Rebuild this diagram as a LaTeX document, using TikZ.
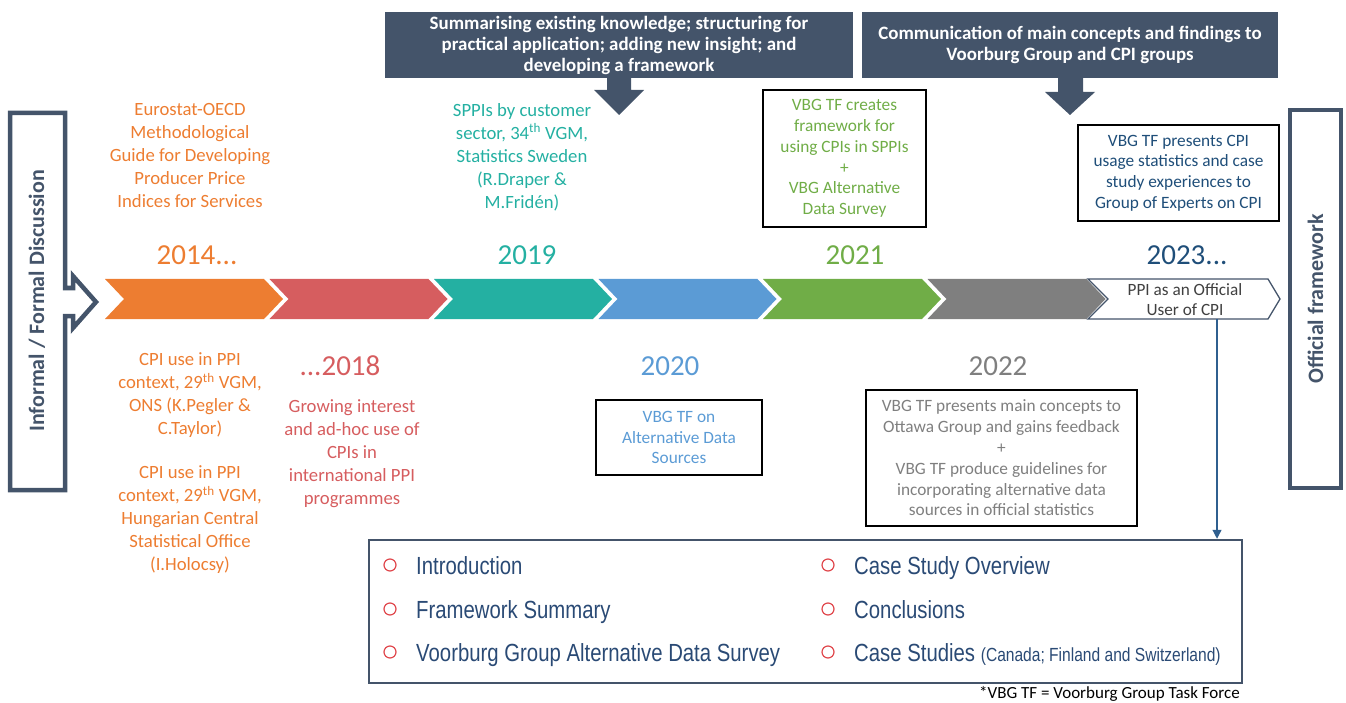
\documentclass[tikz,border=0pt]{standalone}
\usepackage{fontspec}
\setmainfont{Carlito}
\newfontfamily\listfont[FakeStretch=0.82]{Liberation Sans}
\usetikzlibrary{arrows.meta}

\definecolor{slate}{HTML}{44546A}
\definecolor{orangeyr}{HTML}{ED7D31}
\definecolor{redyr}{HTML}{D65D5F}
\definecolor{tealyr}{HTML}{24B0A2}
\definecolor{blueyr}{HTML}{5B9BD5}
\definecolor{greenyr}{HTML}{70AD47}
\definecolor{grayyr}{HTML}{7F7F7F}
\definecolor{navy}{HTML}{1F4E79}
\definecolor{itemred}{HTML}{E0474C}
\definecolor{listblue}{HTML}{2A4A75}
\definecolor{lineblue}{HTML}{2F5F8F}
\definecolor{ppigray}{HTML}{404040}

\tikzstyle{banner} = [rectangle, fill=slate, text=white, align=center, inner sep=0, font=\bfseries\fontsize{18.9}{21}\selectfont]
\tikzstyle{note} = [align=center, inner sep=0, font=\fontsize{18.7}{23}\selectfont]
\tikzstyle{year} = [inner sep=0, font=\fontsize{29}{30}\selectfont]
\tikzstyle{event} = [rectangle, draw=black, line width=1.5pt, align=center, inner sep=0, font=\fontsize{17.3}{20.8}\selectfont]
\tikzstyle{side} = [text=slate, inner sep=0, font=\bfseries\fontsize{22}{24}\selectfont]
\tikzstyle{bullet} = [circle, draw=itemred, line width=1.2pt, minimum size=12pt, inner sep=0]
\tikzstyle{item} = [anchor=base west, inner sep=0, text=listblue, font=\listfont\fontsize{24.8}{26}\selectfont]
\tikzstyle{arrow} = [line width=1.2pt, draw=lineblue, -{Triangle[length=9pt,width=9pt]}]

\begin{document}
\begin{tikzpicture}[x=1pt, y=-1pt]
\useasboundingbox (0,0) rectangle (1346,703);

% banners with down arrows
\node (aims) [banner, minimum width=468, minimum height=66] at (619,45) {Summarising existing knowledge; structuring for\\practical application; adding new insight; and\\developing a framework};
\node (comms) [banner, minimum width=416, minimum height=66] at (1070,45) {Communication of main concepts and findings to\\Voorburg Group and CPI groups};
\fill [slate] (607,77) -- (631,77) -- (631,90) -- (644,90) -- (619,115) -- (594,90) -- (607,90) -- cycle;
\fill [slate] (1058,77) -- (1083,77) -- (1083,92) -- (1095,92) -- (1070,115) -- (1045,92) -- (1058,92) -- cycle;

% side frames
\draw [slate, line width=4.5pt, line join=miter] (10,113) -- (65,113) -- (65,288) -- (73,288) -- (73,276) -- (96,302) -- (73,328) -- (73,316) -- (65,316) -- (65,490) -- (10,490) -- cycle;
\node (discuss) [side, rotate=90] at (37,301) {Informal / Formal Discussion};
\draw [slate, line width=4.5pt] (1290,110) rectangle (1341,488);
\node (official) [side, rotate=90] at (1315.5,299) {Official framework};

% timeline chevrons
\fill [orangeyr] (105,279) -- (264,279) -- (283,299) -- (264,319) -- (105,319) -- (124,299) -- cycle;
\fill [redyr] (269.5,279) -- (428.5,279) -- (447.5,299) -- (428.5,319) -- (269.5,319) -- (288.5,299) -- cycle;
\fill [tealyr] (434,279) -- (593,279) -- (612,299) -- (593,319) -- (434,319) -- (453,299) -- cycle;
\fill [blueyr] (598.5,279) -- (757.5,279) -- (776.5,299) -- (757.5,319) -- (598.5,319) -- (617.5,299) -- cycle;
\fill [greenyr] (763,279) -- (922,279) -- (941,299) -- (922,319) -- (763,319) -- (782,299) -- cycle;
\fill [grayyr] (927.5,279) -- (1086.5,279) -- (1105.5,299) -- (1086.5,319) -- (927.5,319) -- (946.5,299) -- cycle;
\draw [slate, line width=1.3pt, fill=white] (1088,279) -- (1268,279) -- (1280,299) -- (1268,319) -- (1088,319) -- (1108,299) -- cycle;
\node (ppi) [align=center, inner sep=0, text=ppigray, font=\fontsize{17.2}{20}\selectfont] at (1185,300) {PPI as an Official\\User of CPI};

% years
\node (y2014) [year, text=orangeyr] at (197,255) {2014...};
\node (y2018) [year, text=redyr] at (340,366) {...2018};
\node (y2019) [year, text=tealyr] at (527,255) {2019};
\node (y2020) [year, text=blueyr] at (670,366) {2020};
\node (y2021) [year, text=greenyr] at (855,255) {2021};
\node (y2022) [year, text=grayyr] at (998,366) {2022};
\node (y2023) [year, text=navy] at (1187,255) {2023...};

% events above and below the line
\node (guide) [note, text=orangeyr] at (190,156) {Eurostat-OECD\\Methodological\\Guide for Developing\\Producer Price\\Indices for Services};
\node (ons) [note, text=orangeyr] at (190,395.5) {CPI use in PPI\\context, 29\textsuperscript{th} VGM,\\ONS (K.Pegler \&\\C.Taylor)};
\node (hcso) [note, text=orangeyr] at (190,520) {CPI use in PPI\\context, 29\textsuperscript{th} VGM,\\Hungarian Central\\Statistical Office\\(I.Holocsy)};
\node (interest) [note, text=redyr] at (352,453.5) {Growing interest\\and ad-hoc use of\\CPIs in\\international PPI\\programmes};
\node (sppi) [note, text=tealyr] at (522,157) {SPPIs by customer\\sector, 34\textsuperscript{th} VGM,\\Statistics Sweden\\(R.Draper \&\\M.Fridén)};
\node (altdata) [event, text=blueyr, minimum width=166, minimum height=75] at (679,437.5) {VBG TF on\\Alternative Data\\Sources};
\node (creates) [event, text=greenyr, minimum width=163, minimum height=137] at (844.5,158.5) {VBG TF creates\\framework for\\using CPIs in SPPIs\\+\\VBG Alternative\\Data Survey};
\node (ottawa) [event, text=grayyr, minimum width=271, minimum height=136] at (1001.5,458) {VBG TF presents main concepts to\\Ottawa Group and gains feedback\\+\\VBG TF produce guidelines for\\incorporating alternative data\\sources in official statistics};
\node (experts) [event, text=navy, minimum width=201, minimum height=96] at (1178.5,173) {VBG TF presents CPI\\usage statistics and case\\study experiences to\\Group of Experts on CPI};

% contents box
\node (agenda) [draw=slate, line width=2.5pt, minimum width=873, minimum height=143, inner sep=0] at (805.5,611.5) {};
\coordinate (drop) at (1217,319);
\draw [arrow] (drop) -- (drop |- agenda.north);

\node (b1) [bullet] at (390,565) {};
\node (b2) [bullet] at (390,609) {};
\node (b3) [bullet] at (390,652) {};
\node (b4) [bullet] at (828,565) {};
\node (b5) [bullet] at (828,609) {};
\node (b6) [bullet] at (828,652) {};
\node (intro) [item] at (416,574) {Introduction};
\node (summary) [item] at (416,618) {Framework Summary};
\node (survey) [item] at (416,661) {Voorburg Group Alternative Data Survey};
\node (overview) [item] at (854,574) {Case Study Overview};
\node (concl) [item] at (854,618) {Conclusions};
\node (cases) [item] at (854,661) {Case Studies {\fontsize{19}{20}\selectfont (Canada; Finland and Switzerland)}};

\node (foot) [anchor=base east, inner sep=0, font=\fontsize{17}{18}\selectfont] at (1240,698) {*VBG TF = Voorburg Group Task Force};

\end{tikzpicture}
\end{document}
